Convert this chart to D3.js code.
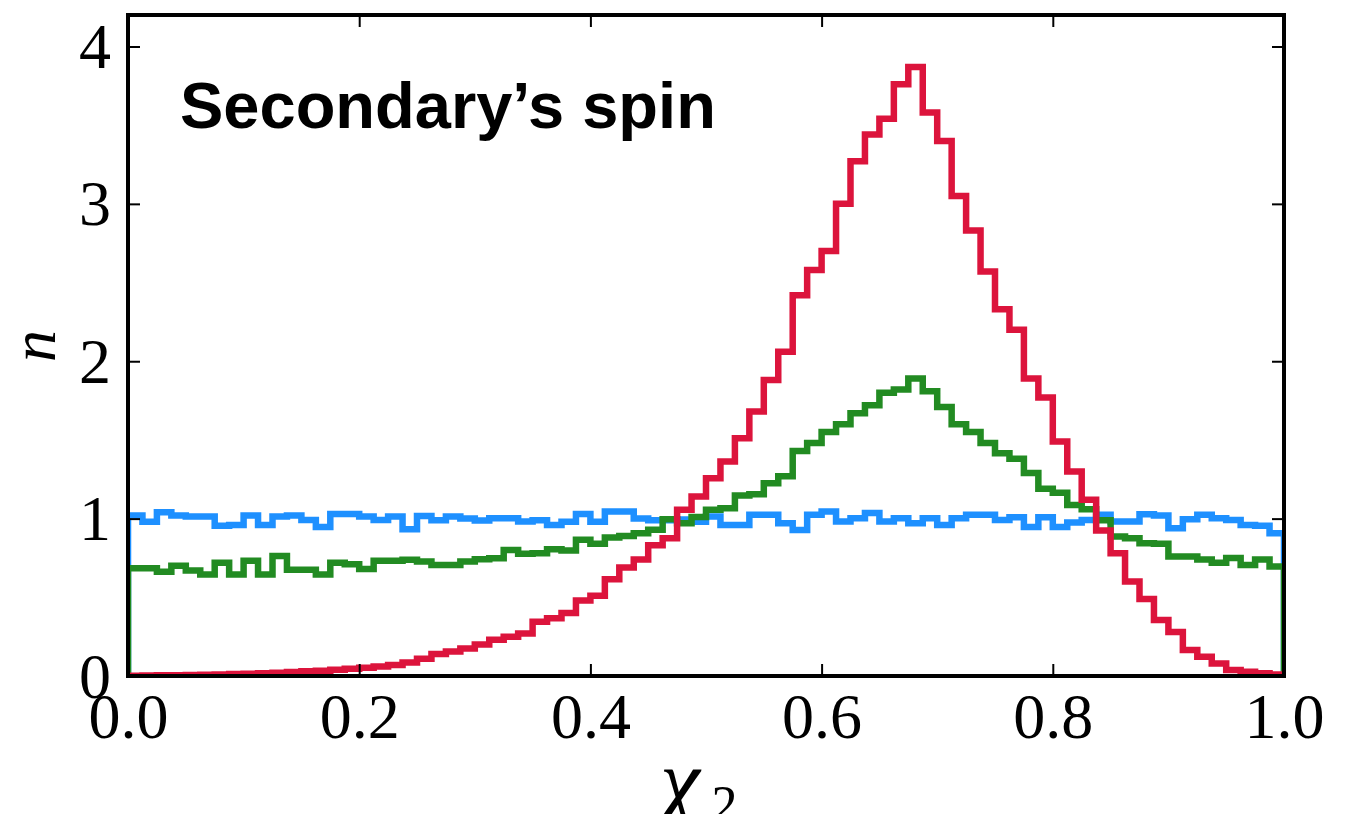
<!DOCTYPE html>
<html>
<head>
<meta charset="utf-8">
<script src="https://cdn.jsdelivr.net/npm/d3@7"></script>
<style>
  body { margin: 0; background: #fff; }
  svg { display: block; }
</style>
</head>
<body>
<svg id="chart" width="1350" height="814"></svg>
<script>
// histogram of chi_2, 80 equal bins on [0,1]
const nBins = 80
const xTicks = [0, 0.2, 0.4, 0.6, 0.8, 1.0]
const yTicks = [0, 1, 2, 3, 4]

const blueVals = [1.02,0.98,1.04,1.02,1.013,1.013,0.954,0.96,1.02,0.96,
  1.013,1.02,0.992,0.946,1.03,1.03,1.013,0.992,1.013,0.933,
  1.017,0.99,1.013,1.0,0.988,1.003,1.003,0.981,0.99,0.96,
  0.98,1.03,0.98,1.045,1.045,1.0,0.99,0.99,0.995,0.98,
  1.013,0.96,0.96,1.024,1.024,0.971,0.928,1.024,1.045,0.981,
  1.003,1.035,0.981,1.003,0.971,1.003,0.96,1.003,1.024,1.024,
  0.992,1.009,0.946,1.009,0.946,0.975,0.992,1.024,0.981,0.981,
  1.028,1.02,0.939,0.996,1.024,1.003,0.992,0.96,0.954,0.907]

const greenVals = [0.685,0.685,0.663,0.70,0.67,0.645,0.72,0.645,0.733,0.645,
  0.763,0.675,0.675,0.645,0.72,0.71,0.68,0.733,0.733,0.738,
  0.727,0.706,0.706,0.727,0.742,0.748,0.80,0.776,0.78,0.806,
  0.797,0.865,0.84,0.88,0.89,0.907,0.93,0.996,0.97,1.01,
  1.056,1.066,1.147,1.155,1.225,1.27,1.43,1.48,1.55,1.60,
  1.67,1.72,1.80,1.82,1.89,1.81,1.71,1.60,1.55,1.48,
  1.416,1.38,1.29,1.19,1.165,1.087,1.06,0.99,0.886,0.875,
  0.844,0.84,0.76,0.76,0.74,0.72,0.75,0.706,0.74,0.695]

const redVals = [0.002,0.003,0.004,0.005,0.006,0.008,0.010,0.012,0.015,0.018,
  0.021,0.025,0.030,0.034,0.040,0.046,0.053,0.060,0.070,0.085,
  0.11,0.14,0.155,0.175,0.20,0.23,0.25,0.27,0.345,0.367,
  0.40,0.48,0.51,0.615,0.69,0.74,0.83,0.875,1.056,1.14,
  1.257,1.363,1.51,1.68,1.88,2.06,2.42,2.58,2.70,3.00,
  3.27,3.44,3.54,3.76,3.87,3.58,3.40,3.05,2.83,2.57,
  2.33,2.20,1.89,1.77,1.49,1.30,1.12,0.924,0.78,0.60,
  0.49,0.356,0.28,0.165,0.123,0.08,0.038,0.027,0.017,0.01]

const series = [
  {vals: blueVals, color: "#1e90ff"},
  {vals: greenVals, color: "#228b22"},
  {vals: redVals, color: "#dc143c"}
]

const padL = 128, padR = 1284, padT = 15, padB = 676
const serif = "'Liberation Serif', 'DejaVu Serif', serif"

const svg = d3.select("#chart")

const xScale = d3.scaleLinear().domain([0, 1]).range([padL, padR])
const yScale = d3.scaleLinear().domain([0, 4.2]).range([padB, padT])

svg.append("clipPath").attr("id", "plot")
  .append("rect")
  .attr("x", padL).attr("y", padT)
  .attr("width", padR - padL).attr("height", padB - padT)

// step outline like matplotlib histtype='step'
const line = d3.line()
  .x(d => xScale(d[0]))
  .y(d => yScale(d[1]))
  .curve(d3.curveStepAfter)

function stepPoints(vals){
  const pts = [[0, 0]]
  vals.forEach((v, i) => pts.push([i / nBins, v]))
  pts.push([1, vals[vals.length - 1]])
  pts.push([1, 0])
  return pts
}

const g = svg.append("g").attr("clip-path", "url(#plot)")
series.forEach(s => {
  g.append("path")
    .datum(stepPoints(s.vals))
    .attr("d", line)
    .attr("fill", "none")
    .attr("stroke", s.color)
    .attr("stroke-width", 6.5)
    .attr("stroke-linejoin", "miter")
})

// axes, ticks pointing inwards
const tickLen = 12

const xAxis = svg.append("g")
  .attr("transform", `translate(0,${padB})`)
  .call(d3.axisBottom(xScale).tickValues(xTicks).tickSize(-tickLen).tickFormat(d3.format(".1f")))
xAxis.selectAll("text").attr("y", 62).attr("dy", 0)

const yAxis = svg.append("g")
  .attr("transform", `translate(${padL},0)`)
  .call(d3.axisLeft(yScale).tickValues(yTicks).tickSize(-tickLen).tickFormat(d3.format("d")))
yAxis.selectAll("text").attr("x", -17).attr("dy", "0.33em")

svg.append("g")
  .attr("transform", `translate(0,${padT})`)
  .call(d3.axisTop(xScale).tickValues(xTicks).tickSize(-tickLen).tickFormat(""))

svg.append("g")
  .attr("transform", `translate(${padR},0)`)
  .call(d3.axisRight(yScale).tickValues(yTicks).tickSize(-tickLen).tickFormat(""))

svg.selectAll(".domain").remove()
svg.selectAll(".tick line").attr("stroke", "#000").attr("stroke-width", 2)
svg.selectAll(".tick text")
  .style("font-family", serif)
  .style("font-size", "64px")
  .attr("fill", "#000")

// frame
svg.append("rect")
  .attr("x", padL).attr("y", padT)
  .attr("width", padR - padL).attr("height", padB - padT)
  .attr("fill", "none")
  .attr("stroke", "#000")
  .attr("stroke-width", 4)

// labels
svg.append("text")
  .attr("x", 180).attr("y", 128)
  .style("font-family", "'Liberation Sans', Arial, sans-serif")
  .style("font-weight", "bold")
  .style("font-size", "65px")
  .text("Secondary’s spin")

svg.append("text")
  .attr("transform", "translate(55,346) rotate(-90)")
  .attr("text-anchor", "middle")
  .style("font-family", serif)
  .style("font-style", "italic")
  .style("font-size", "64px")
  .text("n")

const xl = svg.append("text")
  .attr("x", 660).attr("y", 812)
  .style("font-family", serif)
  .style("font-style", "italic")
  .style("font-size", "90px")
xl.append("tspan").text("χ")
xl.append("tspan")
  .attr("dy", 10)
  .attr("dx", 12)
  .style("font-style", "normal")
  .style("font-size", "52px")
  .text("2")
</script>
</body>
</html>
